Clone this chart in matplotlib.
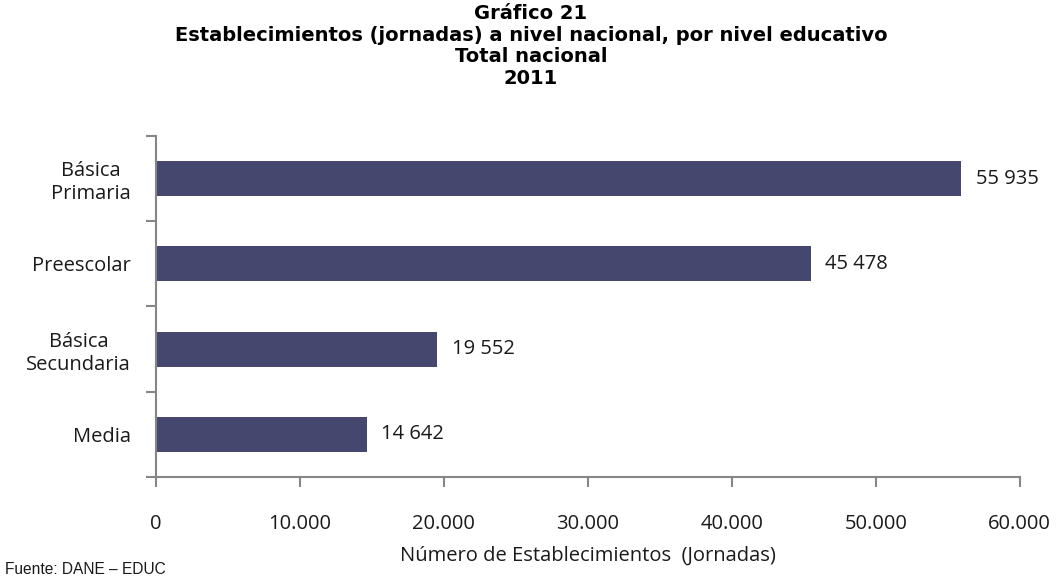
import matplotlib.pyplot as plt
from matplotlib.ticker import FixedLocator, FuncFormatter

# data
categories = ["Básica\nPrimaria", "Preescolar", "Básica\nSecundaria", "Media"]
values = [55935, 45478, 19552, 14642]
value_labels = ["55 935", "45 478", "19 552", "14 642"]
x_ticks = [0, 10000, 20000, 30000, 40000, 50000, 60000]

bar_color = "#46476F"
axis_color = "#868686"
body_font = "Open Sans"
body_size = 14.5

fig = plt.figure(figsize=(10.6, 5.8), dpi=100)
ax = fig.add_axes([0.147, 0.1776, 0.815, 0.588])

pos = list(range(len(categories)))
ax.barh(pos, values, height=0.41, color=bar_color, zorder=2)
ax.set_ylim(len(categories) - 0.5, -0.5)
ax.set_xlim(0, 60000)

for p, v, lab in zip(pos, values, value_labels):
    ax.text(v + 1000, p, lab, va="center", ha="left", fontsize=body_size,
            family=body_font, color="#1a1a1a")

# y axis: labels without marks, tick marks on category boundaries
ax.set_yticks(pos)
ax.set_yticklabels(categories, fontsize=body_size, family=body_font,
                   multialignment="center", color="#1a1a1a")
ax.yaxis.set_minor_locator(FixedLocator([i - 0.5 for i in range(len(categories) + 1)]))
ax.tick_params(axis="y", which="major", length=0, pad=18)
ax.tick_params(axis="y", which="minor", length=7, width=1.5, color=axis_color)

ax.set_xticks(x_ticks)
ax.xaxis.set_major_formatter(FuncFormatter(lambda x, _: f"{int(x):,}".replace(",", ".")))
ax.tick_params(axis="x", length=7, width=1.5, color=axis_color, pad=20,
               labelsize=body_size, labelcolor="#1a1a1a")
for t in ax.get_xticklabels():
    t.set_family(body_font)

for side in ["top", "right"]:
    ax.spines[side].set_visible(False)
for side in ["left", "bottom"]:
    ax.spines[side].set_color(axis_color)
    ax.spines[side].set_linewidth(1.5)

ax.set_xlabel("Número de Establecimientos  (Jornadas)", fontsize=body_size,
              family=body_font, color="#1a1a1a", labelpad=8)

title_lines = ["Gráfico 21",
               "Establecimientos (jornadas) a nivel nacional, por nivel educativo",
               "Total nacional",
               "2011"]
fig.text(0.501, 0.993, "\n".join(title_lines), ha="center", va="top",
         fontsize=14, fontweight="bold", family="DejaVu Sans",
         linespacing=1.18)

fig.text(0.005, 0.006, "Fuente: DANE – EDUC", ha="left", va="bottom",
         fontsize=11.2, family="Liberation Sans", color="#1a1a1a")

fig.savefig("out.png", dpi=100)
